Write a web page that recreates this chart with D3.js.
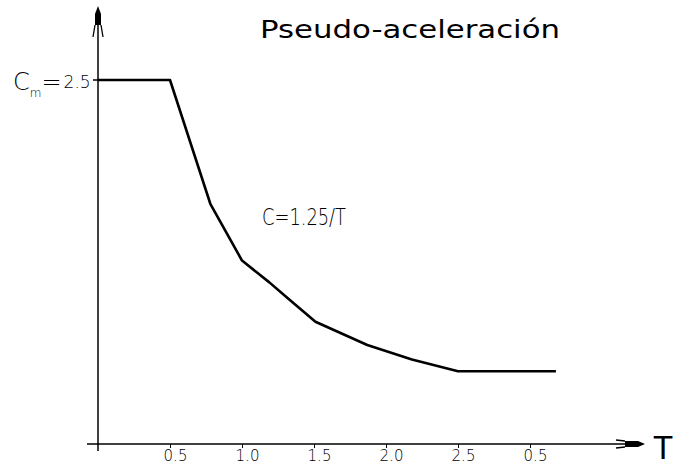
<!DOCTYPE html>
<html>
<head>
<meta charset="utf-8">
<script src="https://cdn.jsdelivr.net/npm/d3@7.9.0/dist/d3.min.js"></script>
<style>
  html, body { margin: 0; padding: 0; background: #fff; }
  svg { display: block; }
  text { fill: #000; }
</style>
</head>
<body>
<svg id="chart" width="677" height="465"></svg>
<script>
// periodo T (s) y coeficiente C
const periods = [0, 0.5, 0.78, 1.0, 1.19, 1.32, 1.51, 1.87, 2.18, 2.5, 3.18];
const coefs   = [2.5, 2.5, 1.65, 1.26, 1.11, 1.0, 0.84, 0.68, 0.58, 0.5, 0.5];
const xTicks = [0.5, 1.0, 1.5, 2.0, 2.5, 3.0];
const xTickLabels = ["0.5", "1.0", "1.5", "2.0", "2.5", "0.5"];
const cMax = 2.5;

const svg = d3.select('#chart');

const x = d3.scaleLinear().domain([0, 3]).range([98, 530]);
const y = d3.scaleLinear().domain([0, 2.5]).range([444, 80]);

// ejes
svg.append('line')
  .attr('x1', 87).attr('x2', 640)
  .attr('y1', y(0)).attr('y2', y(0))
  .attr('stroke', '#000').attr('stroke-width', 1.5);
svg.append('line')
  .attr('x1', x(0)).attr('x2', x(0))
  .attr('y1', 12).attr('y2', 451)
  .attr('stroke', '#000').attr('stroke-width', 1.5);

// flecha eje y
let ax = x(0);
svg.append('path')
  .attr('d', `M${ax},6 L${ax + 3},14 L${ax + 3},25 L${ax - 3},25 L${ax - 3},14 Z`)
  .attr('fill', '#000');
svg.append('path')
  .attr('d', `M${ax - 3},25 L${ax - 5},37 M${ax + 3},25 L${ax + 5},37`)
  .attr('stroke', '#000').attr('stroke-width', 1.3).attr('fill', 'none');

// flecha eje x
let ay = y(0);
svg.append('path')
  .attr('d', `M645,${ay} L638,${ay - 3} L625,${ay - 3} L625,${ay + 3} L638,${ay + 3} Z`)
  .attr('fill', '#000');
svg.append('path')
  .attr('d', `M625,${ay - 3} L616,${ay - 4} M625,${ay + 3} L616,${ay + 4}`)
  .attr('stroke', '#000').attr('stroke-width', 1.3).attr('fill', 'none');

// ticks y etiquetas del eje T
const xAxis = d3.axisBottom(x)
  .tickValues(xTicks)
  .tickSize(4)
  .tickPadding(2)
  .tickFormat((d, i) => xTickLabels[i]);

const gx = svg.append('g')
  .attr('transform', `translate(0,${y(0)})`)
  .call(xAxis);
gx.select('.domain').remove();
gx.selectAll('.tick line').attr('stroke', '#000').attr('stroke-width', 1);
gx.selectAll('.tick text')
  .attr('dx', 5)
  .attr('font-family', 'DejaVu Sans, sans-serif')
  .attr('font-size', 15)
  .attr('font-weight', 200)
  .attr('fill', '#000');

// tick de Cm
svg.append('line')
  .attr('x1', x(0) - 5).attr('x2', x(0))
  .attr('y1', y(cMax)).attr('y2', y(cMax))
  .attr('stroke', '#000').attr('stroke-width', 1.5);

// curva del espectro
const line = d3.line()
  .x((d, i) => x(periods[i]))
  .y((d) => y(d));

svg.append('path')
  .datum(coefs)
  .attr('d', line)
  .attr('fill', 'none')
  .attr('stroke', '#000')
  .attr('stroke-width', 2.6)
  .attr('stroke-linejoin', 'round');

// textos
svg.append('text')
  .attr('x', 260).attr('y', 38)
  .attr('font-family', 'DejaVu Sans, sans-serif')
  .attr('font-size', 24)
  .attr('textLength', 300)
  .attr('lengthAdjust', 'spacingAndGlyphs')
  .text('Pseudo-aceleración');

svg.append('text')
  .attr('x', 262).attr('y', 225)
  .attr('font-family', 'DejaVu Sans, sans-serif')
  .attr('font-size', 23)
  .attr('font-weight', 200)
  .attr('textLength', 84)
  .attr('lengthAdjust', 'spacingAndGlyphs')
  .text('C=1.25/T');

let cm = svg.append('text')
  .attr('x', 13).attr('y', 90)
  .attr('font-family', 'DejaVu Sans, sans-serif')
  .attr('font-weight', 200)
  .attr('fill', '#000');
cm.append('tspan').attr('font-size', 24).text('C');
cm.append('tspan').attr('font-size', 12).attr('dy', 7).text('m');
cm.append('tspan').attr('font-size', 24).attr('dy', -7).text('=');
cm.append('tspan').attr('font-size', 17).attr('dy', -2).attr('dx', 2).text(cMax.toFixed(1));

svg.append('text')
  .attr('x', 653).attr('y', 459)
  .attr('font-family', 'Liberation Sans, Arial, sans-serif')
  .attr('font-size', 33)
  .text('T');
</script>
</body>
</html>
